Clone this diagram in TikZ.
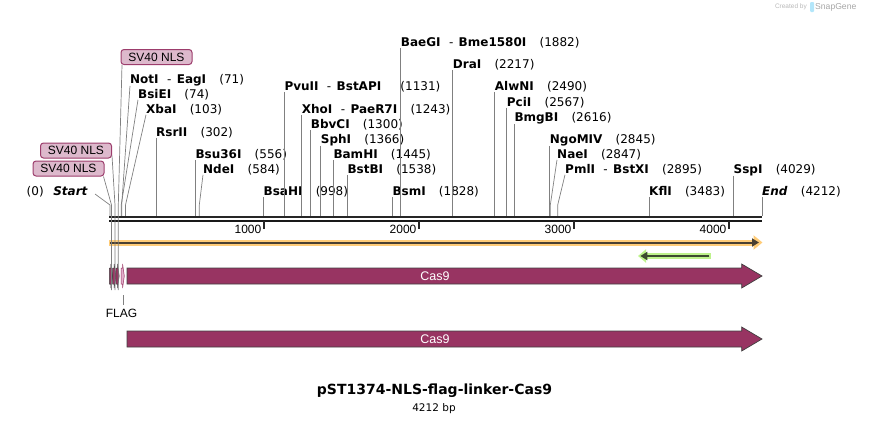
\documentclass[tikz,border=0pt]{standalone}
\usepackage{fontspec}
\setmainfont{DejaVu Sans}
\newfontfamily\arialfont{Liberation Sans}
\usetikzlibrary{arrows.meta}

\definecolor{cas}{HTML}{983462}
\definecolor{nlsfill}{HTML}{DDB9CC}
\definecolor{nlsedge}{HTML}{9C3D6C}
\definecolor{flagfill}{HTML}{E2AECB}
\definecolor{cutgray}{HTML}{808080}
\definecolor{orhalo}{HTML}{FFCC78}
\definecolor{orline}{HTML}{4A4032}
\definecolor{grhalo}{HTML}{BEF28C}
\definecolor{grline}{HTML}{3D4A30}

\newcommand\enzfont{\fontsize{12}{14}\selectfont}
\newcommand\ez[2]{\textbf{#1}\hspace{1.1em}(#2)}
\newcommand\ezz[3]{\textbf{#1}\hspace{0.7em}-\hspace{0.45em}\textbf{#2}\hspace{1.1em}(#3)}

\tikzset{
  enz/.style={anchor=base west, inner sep=0pt, font=\enzfont},
  cut/.style={draw=cutgray, line width=0.7pt},
  nls/.style={draw=nlsedge, fill=nlsfill, rounded corners=3pt, line width=1pt,
    inner sep=0pt, minimum width=71pt, minimum height=15pt,
    font=\arialfont\fontsize{12}{14}\selectfont},
  orf/.style={fill=cas, draw=black!75, line width=0.7pt},
  feat/.style={inner sep=0pt, font=\arialfont\fontsize{12}{14}\selectfont},
}

\begin{document}
\begin{tikzpicture}[x=1pt,y=-1pt]
  \useasboundingbox (0,0) rectangle (872,424);

  % top of the map line
  \coordinate (map) at (0,216);

  \node[anchor=east, inner sep=0pt, text=black!28, font=\arialfont\fontsize{6.5}{8}\selectfont] (made) at (807,7) {Created by};
  \fill[cyan!30, rounded corners=1pt] (810,2) rectangle (814,12);
  \node[anchor=west, inner sep=0pt, text=black!35, font=\arialfont\fontsize{8.6}{10}\selectfont] (sgene) at (815,7) {SnapGene};

  % feature labels
  \node[nls] (nlsa) at (156.5,57) {SV40 NLS};
  \node[nls] (nlsb) at (76,150.5) {SV40 NLS};
  \node[nls] (nlsc) at (68.5,168.5) {SV40 NLS};

  % enzymes
  \node[anchor=base east, inner sep=0pt, font=\enzfont] (start) at (88,195) {(0)\hspace{0.8em}\textbf{\textit{Start}}};
  \node[enz] (noti) at (130,83) {\ezz{NotI}{EagI}{71}};
  \node[enz] (bsiei) at (138,98) {\ez{BsiEI}{74}};
  \node[enz] (xbai) at (146,113) {\ez{XbaI}{103}};
  \node[enz] (rsrii) at (156,136) {\ez{RsrII}{302}};
  \node[enz] (bsu) at (195.3,158) {\ez{Bsu36I}{556}};
  \node[enz] (ndei) at (203,173) {\ez{NdeI}{584}};
  \node[enz] (bsahi) at (263.5,195) {\ez{BsaHI}{998}};
  \node[enz] (pvuii) at (284.3,90) {\textbf{PvuII}\hspace{0.7em}-\hspace{0.45em}\textbf{BstAPI}\hspace{1.6em}(1131)};
  \node[enz] (xhoi) at (301.7,113) {\ezz{XhoI}{PaeR7I}{1243}};
  \node[enz] (bbvci) at (310.7,128) {\ez{BbvCI}{1300}};
  \node[enz] (sphi) at (320.7,143) {\ez{SphI}{1366}};
  \node[enz] (bamhi) at (333.3,158) {\ez{BamHI}{1445}};
  \node[enz] (bstbi) at (347.3,173) {\ez{BstBI}{1538}};
  \node[enz] (bsmi) at (392.3,195) {\ez{BsmI}{1828}};
  \node[enz] (baegi) at (400.7,46) {\ezz{BaeGI}{Bme1580I}{1882}};
  \node[enz] (drai) at (452.7,68) {\ez{DraI}{2217}};
  \node[enz] (alwni) at (494.7,90) {\ez{AlwNI}{2490}};
  \node[enz] (pcii) at (506.7,106) {\ez{PciI}{2567}};
  \node[enz] (bmgbi) at (514.3,121) {\ez{BmgBI}{2616}};
  \node[enz] (ngomiv) at (549.7,143) {\ez{NgoMIV}{2845}};
  \node[enz] (naei) at (557,158) {\ez{NaeI}{2847}};
  \node[enz] (pmli) at (565,173) {\ezz{PmlI}{BstXI}{2895}};
  \node[enz] (kfli) at (649,195) {\ez{KflI}{3483}};
  \node[enz] (sspi) at (733.5,173) {\ez{SspI}{4029}};
  \node[enz] (endl) at (762,195) {\textbf{\textit{End}}\hspace{1.1em}(4212)};

  % slanted cut lines
  \draw[cut] ([xshift=7pt,yshift=1pt]start.base east) -- (110,205) -- (110,216);
  \draw[cut] (noti.south west) -- (121.7,205) -- (121.7,216);
  \draw[cut] (bsiei.south west) -- (121.2,205) -- (121.2,216);
  \draw[cut] (xbai.south west) -- (125.5,205) -- (125.5,216);
  \draw[cut] (ndei.south west) -- (199.3,205) -- (199.3,216);
  \draw[cut] (naei.south west) -- (550.3,205) -- (550.3,216);
  \draw[cut] (pmli.south west) -- (557.7,205) -- (557.7,216);

  % straight cut lines
  \draw[cut] (rsrii.south west) -- (rsrii.south west |- map);
  \draw[cut] (bsu.south west) -- (bsu.south west |- map);
  \draw[cut] (bsahi.south west) -- (bsahi.south west |- map);
  \draw[cut] (pvuii.south west) -- (pvuii.south west |- map);
  \draw[cut] (xhoi.south west) -- (xhoi.south west |- map);
  \draw[cut] (bbvci.south west) -- (bbvci.south west |- map);
  \draw[cut] (sphi.south west) -- (sphi.south west |- map);
  \draw[cut] (bamhi.south west) -- (bamhi.south west |- map);
  \draw[cut] (bstbi.south west) -- (bstbi.south west |- map);
  \draw[cut] (bsmi.south west) -- (bsmi.south west |- map);
  \draw[cut] (baegi.south west) -- (baegi.south west |- map);
  \draw[cut] (drai.south west) -- (drai.south west |- map);
  \draw[cut] (alwni.south west) -- (alwni.south west |- map);
  \draw[cut] (pcii.south west) -- (pcii.south west |- map);
  \draw[cut] (bmgbi.south west) -- (bmgbi.south west |- map);
  \draw[cut] (ngomiv.south west) -- (ngomiv.south west |- map);
  \draw[cut] (kfli.south west) -- (kfli.south west |- map);
  \draw[cut] (sspi.south west) -- (sspi.south west |- map);
  \draw[cut] (endl.south west) -- (endl.south west |- map);

  % the map
  \draw[line width=2.7pt, black!85] (109,217) -- (762,217);
  \draw[line width=2pt, black!90] (109,221) -- (762,221);
  \foreach \k in {1000,2000,3000,4000} {
    \draw[line width=1.5pt, black!85] ({109+\k*0.15503},221) -- ++(0,8);
    \node[anchor=east, feat] (t\k) at ({109+\k*0.15503-2.5},229.5) {\k};
  }

  % orange and green bars
  \draw[orhalo, line width=6pt, -{Triangle[length=9pt,width=14pt]}] (109,242.5) -- (762.5,242.5);
  \draw[orline, line width=2pt, -{Triangle[length=7pt,width=8pt]}] (110,242.5) -- (759,242.5);
  \draw[grhalo, line width=6pt, -{Triangle[length=8pt,width=13pt]}] (711,256) -- (638,256);
  \draw[grline, line width=2pt, -{Triangle[length=7pt,width=8pt]}] (709.3,256) -- (640.3,256);

  % nls and flag features
  \foreach \s in {109.3,112.6,115.9} {
    \draw[orf, line width=0.5pt] (\s,268) -- ({\s+1.6},268) -- ({\s+1.6},264) -- ({\s+3.3},276)
      -- ({\s+1.6},288) -- ({\s+1.6},284) -- (\s,284) -- cycle;
  }
  \draw[draw=cas, fill=flagfill, line width=0.5pt] (121,268) -- (122.6,268) -- (122.6,264) -- (124.3,276)
    -- (122.6,288) -- (122.6,284) -- (121,284) -- cycle;

  \draw[cut] ([xshift=-1pt]nlsc.south east) -- (111.5,205) -- (111.5,290);
  \draw[cut] ([yshift=3pt]nlsb.south east) -- (115,205) -- (115,290);
  \draw[cut] ([xshift=1.5pt]nlsa.south west) -- (118.3,205) -- (118.3,290);

  \coordinate (flagft) at (123.3,295);
  \node[feat] (flag) at (121.5,313) {FLAG};
  \draw[cut] (flagft) -- ([yshift=4pt]flag.north -| flagft);

  % Cas9
  \draw[orf] (127,268) -- (741.7,268) -- (741.7,264) -- (762,276) -- (741.7,288) -- (741.7,284) -- (127,284) -- cycle;
  \node[feat, text=white, font=\arialfont\fontsize{12.5}{14}\selectfont] (casa) at (435,276) {Cas9};
  \draw[orf] (127,331) -- (741.7,331) -- (741.7,327) -- (762,339) -- (741.7,351) -- (741.7,347) -- (127,347) -- cycle;
  \node[feat, text=white, font=\arialfont\fontsize{12.5}{14}\selectfont] (casb) at (435,339) {Cas9};

  \node[anchor=base, inner sep=0pt, font=\bfseries\fontsize{14}{16}\selectfont] (title) at (434.5,394) {pST1374-NLS-flag-linker-Cas9};
  \node[anchor=base, inner sep=0pt, font=\fontsize{10.5}{12}\selectfont] (size) at (434,411.5) {4212 bp};
\end{tikzpicture}
\end{document}
